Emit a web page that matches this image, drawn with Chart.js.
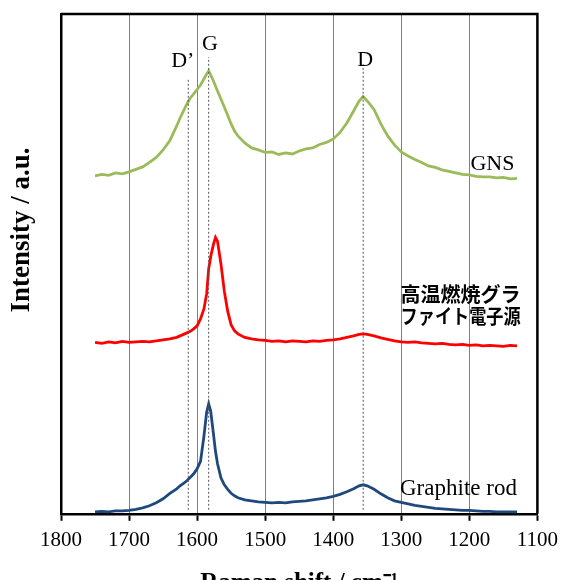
<!DOCTYPE html>
<html>
<head>
<meta charset="utf-8">
<script src="https://cdn.jsdelivr.net/npm/chart.js@4.4.0/dist/chart.umd.min.js"></script>
<style>
  html, body { margin: 0; padding: 0; background: #fff; overflow: hidden; }
  #wrap { width: 565px; height: 599px; }
</style>
</head>
<body>
<div id="wrap"><canvas id="ramanChart"></canvas></div>
<script>
  // Raman shift (cm-1), shared by all three spectra
  const shift = [1750,1740,1730,1720,1710,1700,1690,1680,1670,1660,1650,1640,1630,
    1625,1620,1615,1610,1605,1600,1595,1590,1586,1583,1580,1576,1573,1570,1565,1560,1555,1550,1545,
    1540,1530,1520,1510,1500,1490,1480,1470,1460,1450,1440,1430,1420,1410,1400,1390,1380,1370,1362,1356,1350,1340,
    1330,1320,1310,1300,1290,1280,1270,1260,1250,1240,1230,1220,1210,1200,1190,1180,1170,1160,1150,1140,1130];

  // Intensities (a.u., curves are offset vertically)
  const gns = [67.6,67.9,67.7,68.2,68.0,68.4,68.9,69.4,70.3,71.3,72.8,74.7,77.6,
    79.2,80.6,82.0,83.2,84.0,84.9,85.8,87.0,88.0,88.6,87.8,86.6,85.6,84.6,83.0,81.4,79.7,78.0,76.6,
    75.6,74.2,73.2,72.8,72.3,72.4,71.9,72.2,72.0,72.6,73.0,73.2,73.9,74.3,75.0,76.3,78.2,80.6,82.6,83.5,82.6,80.9,
    78.0,75.6,73.8,72.4,71.6,70.9,70.3,69.6,69.3,68.8,68.5,68.2,67.9,67.8,67.5,67.4,67.4,67.2,67.3,67.0,67.1];
  const hotGraphite = [34.3,34.1,34.4,34.2,34.5,34.3,34.4,34.5,34.4,34.6,34.8,35.0,35.3,
    35.6,35.9,36.2,36.5,37.0,37.6,39.0,41.0,44.0,49.0,51.5,53.9,55.3,54.5,50.0,44.5,40.5,37.8,36.6,
    36.0,35.3,35.0,34.8,34.7,34.5,34.6,34.4,34.6,34.5,34.4,34.6,34.5,34.7,34.8,35.0,35.3,35.6,35.9,36.0,35.9,35.6,
    35.2,34.9,34.6,34.4,34.3,34.4,34.2,34.1,34.0,34.1,33.9,33.8,33.9,33.7,33.8,33.6,33.7,33.6,33.5,33.7,33.6];
  const graphiteRod = [0.4,0.5,0.4,0.6,0.6,0.7,0.9,1.2,1.6,2.2,3.0,4.1,5.0,
    5.6,6.1,6.6,7.3,8.0,9.0,10.5,15.5,20.3,22.0,20.5,16.0,12.5,10.0,7.2,5.8,4.9,4.1,3.6,
    3.2,2.8,2.6,2.4,2.3,2.2,2.3,2.2,2.4,2.5,2.6,2.8,3.0,3.2,3.5,3.9,4.4,5.0,5.6,5.8,5.6,4.9,
    4.0,3.2,2.6,2.3,2.0,1.7,1.5,1.3,1.1,1.0,0.9,0.8,0.7,0.7,0.6,0.5,0.5,0.4,0.4,0.4,0.4];

  const seriesNames = ['GNS', '高温燃焼グラ\nファイト電子源', 'Graphite rod'];

  // Peak markers (dashed lines)
  const peakNames = ['D’', 'G', 'D'];
  const peakShift = [1613, 1583, 1356];
  const peakLineTop = [87, 91.4, 90];

  const xTickValues = [1800, 1700, 1600, 1500, 1400, 1300, 1200, 1100];
  const yTitle = 'Intensity / a.u.';

  const serif = "'Liberation Serif', 'Times New Roman', serif";

  const toPoints = arr => shift.map((s, i) => ({ x: s, y: arr[i] }));

  const spectrum = (label, arr, color) => ({
    label: label,
    data: toPoints(arr),
    borderColor: color,
    borderWidth: 2.8,
    pointRadius: 0,
    tension: 0,
    clip: false,
    order: 1
  });

  const peakLines = peakShift.map((s, i) => ({
    label: peakNames[i],
    data: [{ x: s, y: 0.8 }, { x: s, y: peakLineTop[i] }],
    borderColor: '#555',
    borderWidth: 1,
    borderDash: [2, 2],
    pointRadius: 0,
    order: 0
  }));

  // top and right edges of the plot frame, plus the y title
  const framePlugin = {
    id: 'frame',
    afterDraw(chart) {
      const { ctx, chartArea: a } = chart;
      ctx.save();
      ctx.strokeStyle = '#000';
      ctx.lineWidth = 2.5;
      ctx.beginPath();
      ctx.moveTo(a.left, a.top);
      ctx.lineTo(a.right, a.top);
      ctx.lineTo(a.right, a.bottom);
      ctx.stroke();

      ctx.translate(22, 230);
      ctx.rotate(-Math.PI / 2);
      ctx.fillStyle = '#000';
      ctx.textAlign = 'center';
      ctx.textBaseline = 'middle';
      ctx.font = 'bold 27px ' + serif;
      ctx.fillText(yTitle, 0, 0);
      ctx.restore();
    }
  };

  // text labels placed in data coordinates
  const labelPlugin = {
    id: 'labels',
    afterDatasetsDraw(chart) {
      const { ctx, scales: { x, y } } = chart;
      ctx.save();
      ctx.fillStyle = '#000';
      ctx.textAlign = 'center';
      ctx.textBaseline = 'alphabetic';
      ctx.font = '22px ' + serif;
      ctx.fillText(peakNames[0], x.getPixelForValue(1621), y.getPixelForValue(89.4));
      ctx.fillText(peakNames[1], x.getPixelForValue(1581), y.getPixelForValue(92.8));
      ctx.fillText(peakNames[2], x.getPixelForValue(1353), y.getPixelForValue(89.6));

      ctx.font = '22px ' + serif;
      ctx.fillText(seriesNames[0], x.getPixelForValue(1166), y.getPixelForValue(68.8));
      ctx.font = '23px ' + serif;
      ctx.fillText(seriesNames[2], x.getPixelForValue(1216), y.getPixelForValue(3.8));

      ctx.textAlign = 'left';
      ctx.textBaseline = 'middle';
      ctx.font = "bold 20px 'Noto Sans CJK JP', sans-serif";
      const lines = seriesNames[1].split('\n');
      const w = ctx.measureText(lines[0]).width;
      ctx.fillText(lines[0], x.getPixelForValue(1301), y.getPixelForValue(43.9));
      ctx.fillText(lines[1], x.getPixelForValue(1301), y.getPixelForValue(39.5), w);
      ctx.restore();
    }
  };

  const ctx = document.getElementById('ramanChart').getContext('2d');
  const ramanChart = new Chart(ctx, {
    type: 'line',
    data: {
      datasets: [
        ...peakLines,
        spectrum(seriesNames[0], gns, '#9BBB59'),
        spectrum(seriesNames[1], hotGraphite, '#FF0000'),
        spectrum(seriesNames[2], graphiteRod, '#1F497D')
      ]
    },
    options: {
      responsive: true,
      maintainAspectRatio: false,
      animation: false,
      layout: { padding: { left: 61, right: 23, top: 14, bottom: 0 } },
      plugins: { legend: { display: false }, tooltip: { enabled: false } },
      scales: {
        x: {
          type: 'linear',
          reverse: true,
          min: 1100,
          max: 1800,
          afterBuildTicks: axis => { axis.ticks = xTickValues.map(v => ({ value: v })); },
          ticks: {
            color: '#000',
            font: { family: serif, size: 21 },
            padding: 7,
            maxRotation: 0,
            callback: v => String(v)
          },
          grid: {
            color: '#808080',
            lineWidth: 1,
            drawTicks: true,
            tickLength: 7,
            tickColor: '#000',
            tickWidth: 2
          },
          border: { color: '#000', width: 2.5 },
          title: {
            display: true,
            text: 'Raman shift / cm⁻¹',
            color: '#000',
            font: { family: serif, size: 25, weight: 'bold' },
            padding: { top: 9, bottom: 0 }
          }
        },
        y: {
          min: 0,
          max: 100,
          ticks: { display: false },
          grid: { display: false, drawTicks: false },
          border: { color: '#000', width: 2.5 }
        }
      }
    },
    plugins: [framePlugin, labelPlugin]
  });
</script>
</body>
</html>
